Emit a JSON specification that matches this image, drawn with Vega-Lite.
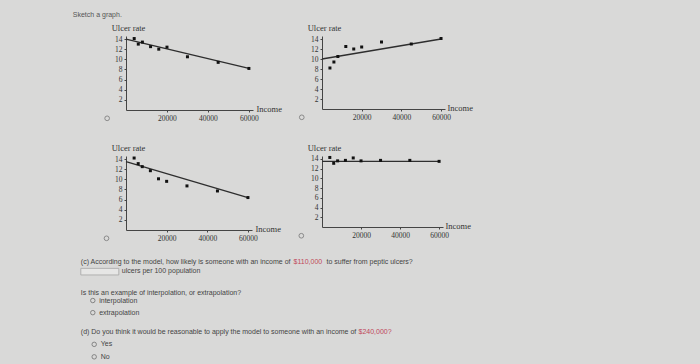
{
  "$schema": "https://vega.github.io/schema/vega-lite/v6.json",
  "background": "#d9d9d8",
  "padding": {"left": 72, "top": 11, "right": 235, "bottom": 5},
  "title": {"text": "Sketch a graph.", "anchor": "start", "font": "Liberation Sans", "fontSize": 7, "fontWeight": "normal", "color": "#555", "offset": 5, "dx": -7.6},
  "datasets": {
    "scatter": [
      {"panel": "A", "income": 4000, "rate": 14.1}, {"panel": "A", "income": 6000, "rate": 13.0}, {"panel": "A", "income": 8000, "rate": 13.4},
      {"panel": "A", "income": 12000, "rate": 12.5}, {"panel": "A", "income": 16000, "rate": 12.0}, {"panel": "A", "income": 20000, "rate": 12.4},
      {"panel": "A", "income": 30000, "rate": 10.5}, {"panel": "A", "income": 45000, "rate": 9.4}, {"panel": "A", "income": 60000, "rate": 8.2},
      {"panel": "B", "income": 4000, "rate": 8.2}, {"panel": "B", "income": 6000, "rate": 9.4}, {"panel": "B", "income": 8000, "rate": 10.5},
      {"panel": "B", "income": 12000, "rate": 12.5}, {"panel": "B", "income": 16000, "rate": 12.0}, {"panel": "B", "income": 20000, "rate": 12.4},
      {"panel": "B", "income": 30000, "rate": 13.4}, {"panel": "B", "income": 45000, "rate": 13.0}, {"panel": "B", "income": 60000, "rate": 14.1},
      {"panel": "C", "income": 4000, "rate": 14.2}, {"panel": "C", "income": 6000, "rate": 13.1}, {"panel": "C", "income": 8000, "rate": 12.5},
      {"panel": "C", "income": 12000, "rate": 11.7}, {"panel": "C", "income": 16000, "rate": 10.1}, {"panel": "C", "income": 20000, "rate": 9.6},
      {"panel": "C", "income": 30000, "rate": 8.7}, {"panel": "C", "income": 45000, "rate": 7.7}, {"panel": "C", "income": 60000, "rate": 6.4},
      {"panel": "D", "income": 4000, "rate": 14.3}, {"panel": "D", "income": 6000, "rate": 13.1}, {"panel": "D", "income": 8000, "rate": 13.6},
      {"panel": "D", "income": 12000, "rate": 13.7}, {"panel": "D", "income": 16000, "rate": 14.2}, {"panel": "D", "income": 20000, "rate": 13.6},
      {"panel": "D", "income": 30000, "rate": 13.7}, {"panel": "D", "income": 45000, "rate": 13.7}, {"panel": "D", "income": 60000, "rate": 13.5}
    ],
    "fit": [
      {"panel": "A", "income": 0, "rate": 14.0}, {"panel": "A", "income": 60000, "rate": 8.2},
      {"panel": "B", "income": 0, "rate": 10.0}, {"panel": "B", "income": 60000, "rate": 14.0},
      {"panel": "C", "income": 0, "rate": 13.5}, {"panel": "C", "income": 60000, "rate": 6.4},
      {"panel": "D", "income": 0, "rate": 13.5}, {"panel": "D", "income": 60000, "rate": 13.5}
    ],
    "choice": [
      {"panel": "A", "income": -9200, "rate": -1.64},
      {"panel": "B", "income": -10200, "rate": -1.66},
      {"panel": "C", "income": -9600, "rate": -1.64},
      {"panel": "D", "income": -10600, "rate": -1.8}
    ],
    "question": [
      {"kind": "text", "col": 0, "line": 0, "label": "(c) According to the model, how likely is someone with an income of", "tone": "plain"},
      {"kind": "text", "col": 212.7, "line": 0, "label": "$110,000", "tone": "money"},
      {"kind": "text", "col": 245.7, "line": 0, "label": "to suffer from peptic ulcers?", "tone": "plain"},
      {"kind": "box", "col": 0, "col2": 38, "line": 0.53, "line2": 1.08},
      {"kind": "text", "col": 41, "line": 0.75, "label": "ulcers per 100 population", "tone": "plain"},
      {"kind": "text", "col": 0, "line": 2.61, "label": "Is this an example of interpolation, or extrapolation?", "tone": "plain"},
      {"kind": "radio", "col": 12, "line": 3.21},
      {"kind": "text", "col": 18.4, "line": 3.21, "label": "interpolation", "tone": "plain"},
      {"kind": "radio", "col": 12, "line": 4.22},
      {"kind": "text", "col": 18.4, "line": 4.22, "label": "extrapolation", "tone": "plain"},
      {"kind": "text", "col": 0, "line": 5.83, "label": "(d) Do you think it would be reasonable to apply the model to someone with an income of", "tone": "plain"},
      {"kind": "text", "col": 277.7, "line": 5.83, "label": "$240,000?", "tone": "money"},
      {"kind": "radio", "col": 13.4, "line": 6.86},
      {"kind": "text", "col": 20, "line": 6.86, "label": "Yes", "tone": "plain"},
      {"kind": "radio", "col": 13.4, "line": 7.9},
      {"kind": "text", "col": 20, "line": 7.9, "label": "No", "tone": "plain"}
    ]
  },
  "spacing": 15,
  "vconcat": [
    {
      "spacing": 20,
      "vconcat": [
        {
          "spacing": 15,
          "hconcat": [
            {
              "width": 127, "height": 74,
              "encoding": {
                "x": {"field": "income", "type": "quantitative", "scale": {"domain": [0, 62000], "nice": false},
                      "axis": {"values": [20000, 40000, 60000], "format": "d", "title": "Income", "titleX": 130, "titleY": -1.5, "titleAlign": "left", "titleBaseline": "middle"}},
                "y": {"field": "rate", "type": "quantitative", "scale": {"domain": [0, 14.6], "nice": false},
                      "axis": {"values": [2, 4, 6, 8, 10, 12, 14], "labelOverlap": false, "title": "Ulcer rate", "titleAngle": 0, "titleX": 2, "titleY": -9, "titleAlign": "center", "titleBaseline": "middle"}}
              },
              "layer": [
                {"data": {"name": "fit"}, "transform": [{"filter": "datum.panel == 'A'"}],
                 "mark": {"type": "line", "color": "#2e2e2e", "strokeWidth": 1.3}},
                {"data": {"name": "scatter"}, "transform": [{"filter": "datum.panel == 'A'"}],
                 "mark": {"type": "point", "shape": "square", "filled": true, "size": 9, "color": "#111", "opacity": 1}},
                {"data": {"name": "choice"}, "transform": [{"filter": "datum.panel == 'A'"}],
                 "mark": {"type": "point", "shape": "circle", "filled": false, "size": 22, "color": "#8a8a8a", "strokeWidth": 1, "opacity": 1}}
              ]
            },
            {
              "width": 123, "height": 73,
              "encoding": {
                "x": {"field": "income", "type": "quantitative", "scale": {"domain": [0, 62000], "nice": false},
                      "axis": {"values": [20000, 40000, 60000], "format": "d", "title": "Income", "titleX": 125, "titleY": -1.5, "titleAlign": "left", "titleBaseline": "middle"}},
                "y": {"field": "rate", "type": "quantitative", "scale": {"domain": [0, 14.6], "nice": false},
                      "axis": {"values": [2, 4, 6, 8, 10, 12, 14], "labelOverlap": false, "title": "Ulcer rate", "titleAngle": 0, "titleX": 2, "titleY": -9, "titleAlign": "center", "titleBaseline": "middle"}}
              },
              "layer": [
                {"data": {"name": "fit"}, "transform": [{"filter": "datum.panel == 'B'"}],
                 "mark": {"type": "line", "color": "#2e2e2e", "strokeWidth": 1.3}},
                {"data": {"name": "scatter"}, "transform": [{"filter": "datum.panel == 'B'"}],
                 "mark": {"type": "point", "shape": "square", "filled": true, "size": 9, "color": "#111", "opacity": 1}},
                {"data": {"name": "choice"}, "transform": [{"filter": "datum.panel == 'B'"}],
                 "mark": {"type": "point", "shape": "circle", "filled": false, "size": 22, "color": "#8a8a8a", "strokeWidth": 1, "opacity": 1}}
              ]
            }
          ]
        },
        {
          "spacing": 15,
          "hconcat": [
            {
              "width": 126, "height": 74,
              "encoding": {
                "x": {"field": "income", "type": "quantitative", "scale": {"domain": [0, 62000], "nice": false},
                      "axis": {"values": [20000, 40000, 60000], "format": "d", "title": "Income", "titleX": 129, "titleY": -1.5, "titleAlign": "left", "titleBaseline": "middle"}},
                "y": {"field": "rate", "type": "quantitative", "scale": {"domain": [0, 14.6], "nice": false},
                      "axis": {"values": [2, 4, 6, 8, 10, 12, 14], "labelOverlap": false, "title": "Ulcer rate", "titleAngle": 0, "titleX": 2, "titleY": -9, "titleAlign": "center", "titleBaseline": "middle"}}
              },
              "layer": [
                {"data": {"name": "fit"}, "transform": [{"filter": "datum.panel == 'C'"}],
                 "mark": {"type": "line", "color": "#2e2e2e", "strokeWidth": 1.3}},
                {"data": {"name": "scatter"}, "transform": [{"filter": "datum.panel == 'C'"}],
                 "mark": {"type": "point", "shape": "square", "filled": true, "size": 9, "color": "#111", "opacity": 1}},
                {"data": {"name": "choice"}, "transform": [{"filter": "datum.panel == 'C'"}],
                 "mark": {"type": "point", "shape": "circle", "filled": false, "size": 22, "color": "#8a8a8a", "strokeWidth": 1, "opacity": 1}}
              ]
            },
            {
              "width": 121, "height": 71,
              "encoding": {
                "x": {"field": "income", "type": "quantitative", "scale": {"domain": [0, 62000], "nice": false},
                      "axis": {"values": [20000, 40000, 60000], "format": "d", "title": "Income", "titleX": 123, "titleY": -1.5, "titleAlign": "left", "titleBaseline": "middle"}},
                "y": {"field": "rate", "type": "quantitative", "scale": {"domain": [0, 14.6], "nice": false},
                      "axis": {"values": [2, 4, 6, 8, 10, 12, 14], "labelOverlap": false, "title": "Ulcer rate", "titleAngle": 0, "titleX": 2, "titleY": -9, "titleAlign": "center", "titleBaseline": "middle"}}
              },
              "layer": [
                {"data": {"name": "fit"}, "transform": [{"filter": "datum.panel == 'D'"}],
                 "mark": {"type": "line", "color": "#2e2e2e", "strokeWidth": 1.3}},
                {"data": {"name": "scatter"}, "transform": [{"filter": "datum.panel == 'D'"}],
                 "mark": {"type": "point", "shape": "square", "filled": true, "size": 9, "color": "#111", "opacity": 1}},
                {"data": {"name": "choice"}, "transform": [{"filter": "datum.panel == 'D'"}],
                 "mark": {"type": "point", "shape": "circle", "filled": false, "size": 22, "color": "#8a8a8a", "strokeWidth": 1, "opacity": 1}}
              ]
            }
          ]
        }
      ]
    },
    {
      "width": 340, "height": 100,
      "data": {"name": "question"},
      "layer": [
        {"transform": [{"filter": "datum.kind == 'box'"}],
         "mark": {"type": "rect", "fill": "#e6e6e5", "stroke": "#a5a5a5", "strokeWidth": 0.8},
         "encoding": {
           "x": {"field": "col", "type": "quantitative", "scale": {"domain": [45.2, 385.2], "nice": false, "zero": false}, "axis": null},
           "x2": {"field": "col2"},
           "y": {"field": "line", "type": "quantitative", "scale": {"domain": [0, 8.33], "reverse": true, "nice": false, "zero": false}, "axis": null},
           "y2": {"field": "line2"}
         }},
        {"transform": [{"filter": "datum.kind == 'radio'"}],
         "mark": {"type": "point", "shape": "circle", "filled": false, "size": 20, "color": "#7a7a7a", "strokeWidth": 0.9, "opacity": 1},
         "encoding": {"x": {"field": "col", "type": "quantitative"}, "y": {"field": "line", "type": "quantitative"}}},
        {"transform": [{"filter": "datum.kind == 'text'"}],
         "mark": {"type": "text", "align": "left", "baseline": "middle", "font": "Liberation Sans", "fontSize": 7},
         "encoding": {
           "x": {"field": "col", "type": "quantitative"},
           "y": {"field": "line", "type": "quantitative"},
           "text": {"field": "label"},
           "color": {"field": "tone", "type": "nominal", "scale": {"domain": ["plain", "money"], "range": ["#444444", "#c0485a"]}, "legend": null}
         }}
      ]
    }
  ],
  "config": {
    "view": {"stroke": null},
    "axis": {"labelFont": "Liberation Serif", "titleFont": "Liberation Serif", "labelColor": "#333", "titleColor": "#333", "domainColor": "#444", "tickColor": "#444", "grid": false, "titleFontWeight": "normal", "labelFontSize": 7.5, "titleFontSize": 8.5, "tickSize": 2, "labelPadding": 2}
  }
}
